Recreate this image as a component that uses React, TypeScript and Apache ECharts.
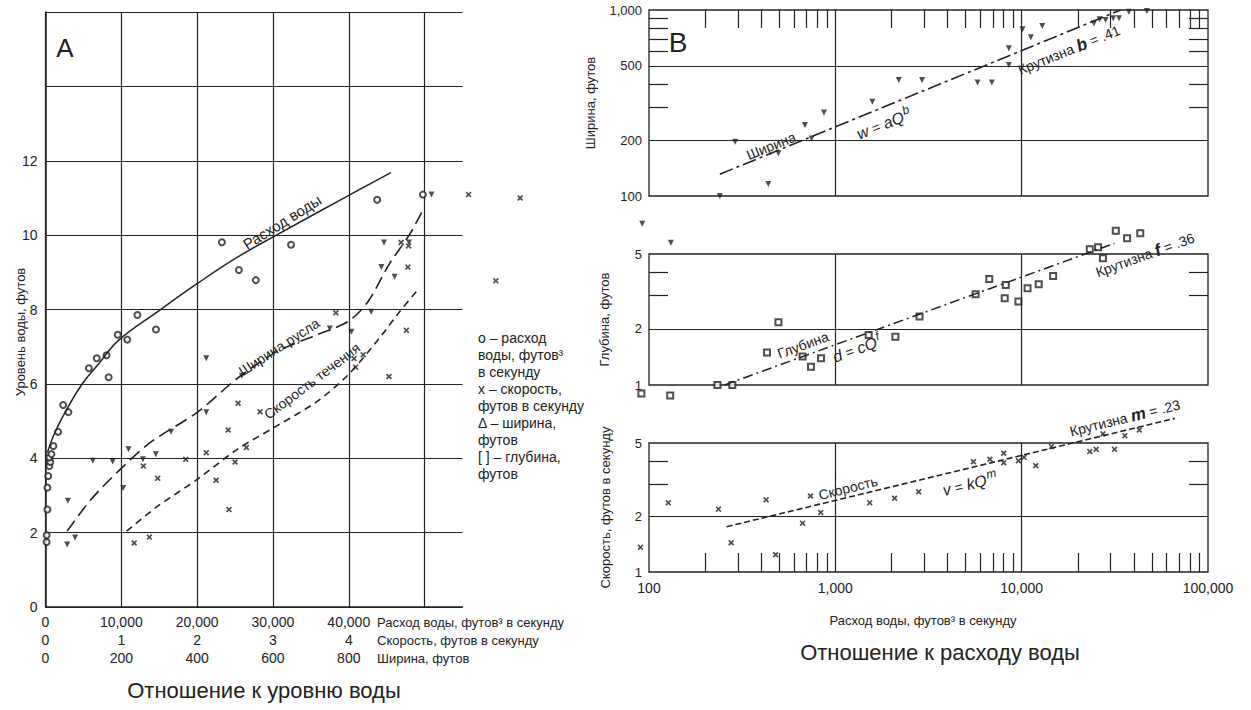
import React, { useEffect, useRef } from "react";
import * as echarts from "echarts";

// ---------- Panel A (relation to water level) ----------
// discharge points: [discharge ft3/s, stage ft]
const dischargePointsA: number[][] = [
  [150, 1.75], [150, 1.93], [250, 2.62], [250, 3.21], [360, 3.52], [510, 3.79], [620, 3.9],
  [510, 4.02], [780, 4.11], [1040, 4.33], [1660, 4.71], [2330, 5.43], [3020, 5.24],
  [5720, 6.42], [6760, 6.69], [8060, 6.77], [8330, 6.18], [9530, 7.32], [10780, 7.19],
  [12120, 7.85], [14570, 7.46], [23270, 9.81], [25510, 9.06], [27750, 8.79], [32390, 9.74],
  [43740, 10.95], [49780, 11.09],
];
// velocity points: [velocity ft/s, stage ft]
const velocityPointsA: number[][] = [
  [1.17, 1.72], [1.37, 1.88], [1.29, 3.79], [1.48, 3.46], [1.85, 3.97], [2.12, 4.15],
  [2.25, 3.41], [2.42, 2.62], [2.41, 4.76], [2.5, 3.9], [2.54, 5.48], [2.65, 4.29],
  [2.83, 5.25], [3.83, 7.91], [4.07, 6.68], [4.09, 6.45], [4.19, 6.78], [4.53, 6.2],
  [4.76, 7.44], [4.69, 9.8], [4.79, 9.71], [4.78, 9.14], [5.58, 11.09], [6.26, 11.0],
  [5.94, 8.77],
];
// width points: [width ft, stage ft]
const widthPointsA: number[][] = [
  [57, 1.68], [78, 1.87], [59, 2.86], [125, 3.93], [177, 3.91], [205, 3.2], [219, 4.24],
  [257, 3.97], [291, 4.11], [331, 4.71], [424, 6.69], [424, 5.24], [518, 6.22], [750, 7.49],
  [807, 7.4], [859, 7.94], [893, 9.8], [959, 9.8], [886, 9.14], [921, 8.88], [1018, 11.09],
];
const dischargeCurveA: number[][] = [
  [250, 4.15], [1040, 4.6], [2330, 5.14], [4680, 5.95], [7020, 6.54], [9630, 7.17],
  [14840, 7.95], [20040, 8.7], [25260, 9.4], [30460, 10.0], [39830, 11.05], [45560, 11.68],
];
const widthCurveA: number[][] = [
  [57, 2.04], [120, 2.89], [193, 3.66], [276, 4.42], [401, 5.24], [505, 6.14], [609, 6.86],
  [713, 7.31], [797, 7.67], [850, 8.2], [908, 9.24], [960, 10.01], [996, 10.68],
];
const velocityCurveA: number[][] = [
  [1.07, 2.04], [1.48, 2.71], [2.0, 3.43], [2.53, 4.24], [3.05, 4.87], [3.57, 5.51],
  [3.98, 6.22], [4.4, 7.22], [4.67, 7.94], [4.89, 8.48],
];
const dischargeTicksA = [0, 10000, 20000, 30000, 40000];
const velocityTicksA = [0, 1, 2, 3, 4];
const widthTicksA = [0, 200, 400, 600, 800];
const stageTicksA = [0, 2, 4, 6, 8, 10, 12];

// ---------- Panel B (relation to discharge) ----------
const widthPointsB: number[][] = [
  [92, 71], [131, 56], [240, 100], [290, 196], [437, 116], [495, 170], [687, 241], [746, 204],
  [869, 281], [1580, 321], [2190, 420], [2920, 420], [5800, 407], [6920, 407], [8530, 622],
  [8530, 506], [10100, 787], [11200, 713], [12900, 820], [24400, 847], [26200, 891],
  [28200, 884], [31000, 902], [33300, 902], [37600, 979], [47000, 988],
];
const widthFitB: number[][] = [[240, 131], [34000, 1000]];
const depthPointsB: number[][] = [
  [91, 0.9], [130, 0.88], [233, 1.0], [280, 1.0], [495, 2.16], [430, 1.49], [667, 1.42],
  [740, 1.25], [838, 1.39], [1510, 1.85], [2100, 1.81], [2830, 2.32], [5660, 3.05],
  [6700, 3.68], [8220, 3.42], [8110, 2.9], [9610, 2.79], [10750, 3.28], [12340, 3.45],
  [14750, 3.82], [23200, 5.3], [25700, 5.43], [27300, 4.74], [32000, 6.66], [36800, 6.06],
  [43300, 6.45],
];
const depthFitB: number[][] = [[254, 1.0], [31500, 5.7]];
const velocityPointsB: number[][] = [
  [90, 1.36], [127, 2.37], [236, 2.19], [276, 1.44], [425, 2.46], [478, 1.24], [667, 1.84],
  [735, 2.58], [835, 2.1], [1530, 2.37], [2080, 2.51], [2800, 2.72], [5510, 3.96],
  [6760, 4.08], [8010, 4.4], [8010, 3.91], [9610, 4.01], [10300, 4.18], [11900, 3.77],
  [14450, 4.78], [23200, 4.49], [25100, 4.62], [31500, 4.62], [27300, 5.6], [35800, 5.48],
  [42800, 5.88],
];
const velocityFitB: number[][] = [[261, 1.76], [66400, 6.8]];
const dischargeTicksB = [100, 1000, 10000, 100000];
const minorDischargeTicksB = [
  200, 300, 400, 500, 600, 700, 800, 900, 2000, 3000, 4000, 5000, 6000, 7000, 8000, 9000,
  20000, 30000, 40000, 50000, 60000, 70000, 80000, 90000,
];
const widthTicksB = [100, 200, 500, 1000];
const widthMinorTicksB = [300, 400, 600, 700, 800, 900];
const depthTicksB = [1, 2, 5];
const velocityTicksB = [1, 2, 5];
const smallMinorTicksB = [3, 4];

const FONT = '"Liberation Sans", Arial, Helvetica, sans-serif';
const INK = "#222";
const L = (v: number) => Math.log10(v);
const toLog = (pts: number[][]) => pts.map(([x, y]) => [L(x), L(y)]);
const comma = (v: number) => Math.round(v).toLocaleString("en-US");
const XSYM = "path://M0,2L2,0L5,3L8,0L10,2L7,5L10,8L8,10L5,7L2,10L0,8L3,5Z";

const labelStyle = { color: INK, fontFamily: FONT, fontSize: 14 };

function buildOption(): any {
  const hiddenX = (gridIndex: number) => ({
    gridIndex, type: "value", min: 2, max: 5, position: "bottom",
    axisLine: { show: false }, axisTick: { show: false }, axisLabel: { show: false }, splitLine: { show: false },
  });
  const tickLine = { color: INK, width: 1.2 };
  const yLog = (gridIndex: number, min: number, max: number, labels: number[], minors: number[], right: boolean, name?: string, nameGap?: number) => ({
    gridIndex, type: "value", min, max, position: right ? "right" : "left",
    axisLine: { show: false },
    axisTick: { show: true, inside: true, length: 19, customValues: minors.map(L), lineStyle: tickLine },
    axisLabel: right
      ? { show: false }
      : { show: true, customValues: labels.map(L), formatter: (v: number) => comma(Math.pow(10, v)), margin: 7, ...labelStyle, fontSize: 13 },
    splitLine: { show: false },
    name: right ? "" : name,
    nameLocation: "middle",
    nameGap,
    nameRotate: 90,
    nameTextStyle: { color: INK, fontFamily: FONT, fontSize: 13 },
  });
  const gridLines = (hs: number[]) => ({
    silent: true, symbol: ["none", "none"], animation: false,
    label: { show: false },
    lineStyle: { type: "solid", color: INK, width: 1.2 },
    data: [...hs.map((h) => ({ yAxis: L(h) })), { xAxis: 3 }, { xAxis: 4 }],
  });
  const text = (t: string, x: number, y: number, size: number, rot = 0, extra: any = {}) => ({
    type: "text", x, y, rotation: (rot * Math.PI) / 180, silent: true,
    style: { text: t, fontSize: size, fontFamily: FONT, fill: INK, align: "center", verticalAlign: "middle", ...extra },
  });
  const rich = {
    it: { fontStyle: "italic", fontSize: 16, fontFamily: FONT, fill: INK },
    itb: { fontStyle: "italic", fontWeight: "bold", fontSize: 17, fontFamily: FONT, fill: INK },
    sup: { fontStyle: "italic", fontSize: 12, fontFamily: FONT, fill: INK, padding: [0, 0, 10, 1] },
    n: { fontSize: 14, fontFamily: FONT, fill: INK },
  };

  return {
    animation: false,
    backgroundColor: "#fff",
    grid: [
      { left: 45.5, top: 12, width: 417, height: 595 },
      { left: 649, top: 10, width: 559, height: 186, show: true, borderColor: INK, borderWidth: 1.3 },
      { left: 649, top: 254, width: 559, height: 131, show: true, borderColor: INK, borderWidth: 1.3 },
      { left: 649, top: 443, width: 559, height: 129, show: true, borderColor: INK, borderWidth: 1.3 },
    ],
    xAxis: [
      {
        gridIndex: 0, type: "value", min: 0, max: 55000, interval: 10000, position: "bottom",
        axisLine: { show: true, onZero: false, lineStyle: { color: INK, width: 1.5 } },
        axisTick: { show: false },
        axisLabel: { formatter: (v: number) => (dischargeTicksA.includes(v) ? comma(v) : ""), margin: 8, ...labelStyle },
        splitLine: { show: true, showMaxLine: false, lineStyle: { color: INK, width: 1.2 } },
      },
      {
        gridIndex: 0, type: "value", min: 0, max: 5.5, interval: 1, offset: 18, position: "bottom",
        axisLine: { show: false, onZero: false }, axisTick: { show: false }, splitLine: { show: false },
        axisLabel: { formatter: (v: number) => (velocityTicksA.includes(v) ? String(v) : ""), margin: 8, ...labelStyle },
      },
      {
        gridIndex: 0, type: "value", min: 0, max: 1100, interval: 200, offset: 36, position: "bottom",
        axisLine: { show: false, onZero: false }, axisTick: { show: false }, splitLine: { show: false },
        axisLabel: { formatter: (v: number) => (widthTicksA.includes(v) ? String(v) : ""), margin: 8, ...labelStyle },
      },
      hiddenX(1),
      {
        gridIndex: 1, type: "value", min: 2, max: 5, position: "top",
        axisLine: { show: false }, axisLabel: { show: false }, splitLine: { show: false },
        axisTick: { show: true, inside: true, length: 18, customValues: minorDischargeTicksB.map(L), lineStyle: tickLine },
      },
      hiddenX(2),
      {
        gridIndex: 3, type: "value", min: 2, max: 5, position: "bottom",
        axisLine: { show: false }, splitLine: { show: false },
        axisTick: { show: true, inside: true, length: 19, customValues: minorDischargeTicksB.map(L), lineStyle: tickLine },
        axisLabel: { show: true, customValues: dischargeTicksB.map(L), formatter: (v: number) => comma(Math.pow(10, v)), margin: 9, ...labelStyle },
      },
    ],
    yAxis: [
      {
        gridIndex: 0, type: "value", min: 0, max: 16, interval: 2,
        axisLine: { show: true, lineStyle: { color: INK, width: 1.5 } },
        axisTick: { show: false },
        axisLabel: { formatter: (v: number) => (stageTicksA.includes(v) ? String(v) : ""), margin: 8, ...labelStyle },
        splitLine: { show: true, lineStyle: { color: INK, width: 1.2 } },
      },
      yLog(1, 2, 3, widthTicksB, widthMinorTicksB, false, "Ширина, футов", 52),
      yLog(1, 2, 3, widthTicksB, widthMinorTicksB, true),
      yLog(2, 0, L(5), depthTicksB, smallMinorTicksB, false, "Глубина, футов", 38),
      yLog(2, 0, L(5), depthTicksB, smallMinorTicksB, true),
      yLog(3, 0, L(5), velocityTicksB, smallMinorTicksB, false, "Скорость, футов в секунду", 37),
      yLog(3, 0, L(5), velocityTicksB, smallMinorTicksB, true),
    ],
    series: [
      // Panel A
      { type: "line", xAxisIndex: 0, yAxisIndex: 0, data: dischargeCurveA, smooth: 0.4, showSymbol: false, symbol: "none", clip: false,
        lineStyle: { color: INK, width: 1.5 } },
      { type: "line", xAxisIndex: 2, yAxisIndex: 0, data: widthCurveA, smooth: 0.3, showSymbol: false, symbol: "none", clip: false,
        lineStyle: { color: INK, width: 1.6, type: [13, 6] } },
      { type: "line", xAxisIndex: 1, yAxisIndex: 0, data: velocityCurveA, smooth: 0.3, showSymbol: false, symbol: "none", clip: false,
        lineStyle: { color: INK, width: 1.6, type: [7, 5] } },
      { type: "scatter", xAxisIndex: 0, yAxisIndex: 0, data: dischargePointsA, symbol: "emptyCircle", symbolSize: 6, clip: false,
        itemStyle: { color: INK, borderColor: INK, borderWidth: 1.1 } },
      { type: "scatter", xAxisIndex: 1, yAxisIndex: 0, data: velocityPointsA, symbol: XSYM, symbolSize: 6, clip: false,
        itemStyle: { color: INK } },
      { type: "scatter", xAxisIndex: 2, yAxisIndex: 0, data: widthPointsA, symbol: "triangle", symbolRotate: 180, symbolSize: 6, clip: false,
        itemStyle: { color: INK } },
      // Panel B - width
      { type: "line", xAxisIndex: 3, yAxisIndex: 1, data: toLog(widthFitB), showSymbol: false, symbol: "none", clip: false,
        lineStyle: { color: INK, width: 1.6, type: [14, 4, 3, 4] } },
      { type: "scatter", xAxisIndex: 3, yAxisIndex: 1, data: toLog(widthPointsB), symbol: "triangle", symbolRotate: 180, symbolSize: 6, clip: false,
        itemStyle: { color: INK }, markLine: gridLines([200, 500]) },
      // Panel B - depth
      { type: "line", xAxisIndex: 5, yAxisIndex: 3, data: toLog(depthFitB), showSymbol: false, symbol: "none", clip: false,
        lineStyle: { color: INK, width: 1.5, type: [10, 4, 2, 4] } },
      { type: "scatter", xAxisIndex: 5, yAxisIndex: 3, data: toLog(depthPointsB), symbol: "emptyRect", symbolSize: 6, clip: false,
        itemStyle: { color: INK, borderColor: INK, borderWidth: 1.1 }, markLine: gridLines([2]) },
      // Panel B - velocity
      { type: "line", xAxisIndex: 6, yAxisIndex: 5, data: toLog(velocityFitB), showSymbol: false, symbol: "none", clip: false,
        lineStyle: { color: INK, width: 1.6, type: [6, 3] } },
      { type: "scatter", xAxisIndex: 6, yAxisIndex: 5, data: toLog(velocityPointsB), symbol: XSYM, symbolSize: 6, clip: false,
        itemStyle: { color: INK }, markLine: gridLines([2]) },
    ],
    graphic: [
      text("A", 65, 48, 26),
      text("B", 678, 42, 28),
      text("Расход воды", 282, 222, 15, 32),
      text("Ширина русла", 279, 347, 14, 33),
      text("Скорость течения", 312, 381, 14, 37),
      {
        type: "text", x: 478, y: 329, silent: true,
        style: {
          text: "о – расход\nводы, футов³\nв секунду\nх – скорость,\nфутов в секунду\nΔ – ширина,\nфутов\n[ ] – глубина,\nфутов",
          fontSize: 14, lineHeight: 17, fontFamily: FONT, fill: INK, align: "left", verticalAlign: "top",
        },
      },
      text("Уровень воды, футов", 20, 332, 13, 90),
      text("Расход воды, футов³ в секунду", 377, 622, 13, 0, { align: "left" }),
      text("Скорость, футов в секунду", 377, 640, 13, 0, { align: "left" }),
      text("Ширина, футов", 377, 658, 13, 0, { align: "left" }),
      text("Отношение к уровню воды", 264, 690, 22),
      text("Ширина", 771, 146, 14, 22),
      text("{it|w} {n|=} {it|aQ}{sup|b}", 884, 124, 15, 22, { rich }),
      text("{n|Крутизна }{itb|b}{n| = .41}", 1069, 50, 14, 22, { rich }),
      text("Глубина", 803, 345, 14, 20),
      text("{it|d} {n|=} {it|cQ}{sup|f}", 857, 349, 15, 20, { rich }),
      text("{n|Крутизна }{itb|f}{n| = .36}", 1145, 255, 14, 20, { rich }),
      text("Скорость", 848, 488, 14, 14),
      text("{it|v} {n|=} {it|kQ}{sup|m}", 970, 484, 15, 14, { rich }),
      text("{n|Крутизна }{itb|m}{n| = .23}", 1125, 418, 14, 14, { rich }),
      text("Расход воды, футов³ в секунду", 923, 620, 13),
      text("Отношение к расходу воды", 940, 652, 22),
    ],
  };
}

export default function App() {
  const ref = useRef<HTMLDivElement>(null);
  useEffect(() => {
    if (!ref.current) return;
    const chart = echarts.init(ref.current, undefined, { renderer: "svg" });
    chart.setOption(buildOption());
    return () => chart.dispose();
  }, []);
  return <div ref={ref} style={{ position: "absolute", left: 0, top: 0, width: 1251, height: 710, background: "#fff" }} />;
}
